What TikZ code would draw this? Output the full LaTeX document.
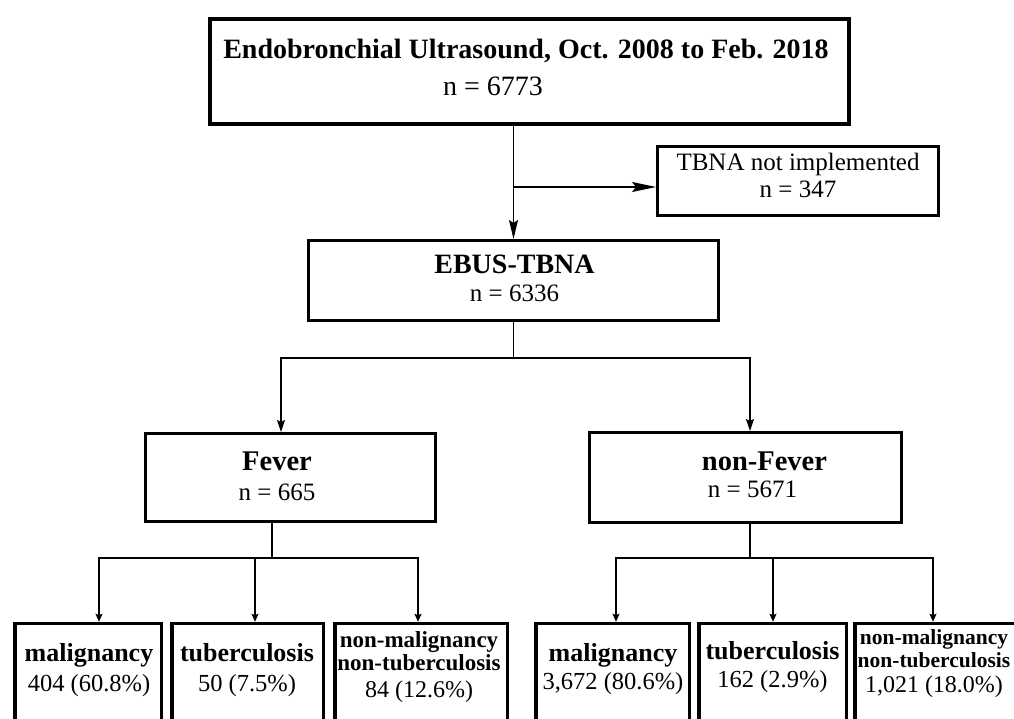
\documentclass[tikz,border=0pt]{standalone}
\usepackage{fontspec}
\setmainfont{Liberation Serif}
\usetikzlibrary{arrows.meta}

\begin{document}
\begin{tikzpicture}[x=1pt,y=-1pt,
		box/.style={draw, rectangle, line width=3pt, inner sep=0pt},
		leaf/.style={box, line width=3.5pt, minimum height=135},
		txt/.style={align=center, inner sep=0pt},
		link/.style={line width=1.3pt},
		small/.style={-{Stealth[length=8pt,width=7pt,inset=1.5pt]}}]
				\useasboundingbox (0,0) rectangle (1014,718);
				\clip (0,0) rectangle (1014,718);

				\node[box, line width=4pt, minimum width=639, minimum height=105] (top) at (529.5,71.5) {};
				\node[box, minimum width=281, minimum height=69]  (tbna)     at (798,181)     {};
				\node[box, minimum width=410, minimum height=80]  (ebus)     at (513.5,280.5) {};
				\node[box, minimum width=290, minimum height=88]  (fever)    at (290.5,477.5) {};
				\node[box, minimum width=312, minimum height=90]  (nonfever) at (745.5,477.5) {};
				\node[leaf, minimum width=146.5] (b1) at (88,691)    {};
				\node[leaf, minimum width=151.5] (b2) at (247.5,691) {};
				\node[leaf, minimum width=172.5] (b3) at (421,691)   {};
				\node[leaf, minimum width=153.5] (b4) at (612.5,691) {};
				\node[leaf, minimum width=147.5] (b5) at (772.5,691) {};
				\node[leaf, minimum width=167.5] (b6) at (938.5,691) {};

				\node[txt, font=\fontsize{28}{37}\selectfont] (toplab) at (526,67)
					{{\bfseries Endobronchial Ultrasound, Oct. 2008 to Feb. 2018}\\ \hspace*{-66pt}n = 6773};
				\node[txt, font=\fontsize{25}{27}\selectfont] (tbnalab) at (798,175.5)
					{TBNA not implemented\\ n = 347};
				\node[txt, font=\fontsize{25}{28}\selectfont] (ebuslab) at (514.5,278)
					{{\bfseries\fontsize{28}{28}\selectfont EBUS-TBNA}\\ n = 6336};
				\node[txt, font=\fontsize{25}{30}\selectfont] (feverlab) at (277,476)
					{{\bfseries\fontsize{28.5}{30}\selectfont Fever}\\ n = 665};
				\node[txt, font=\fontsize{25}{27}\selectfont] (nonfeverlab) at (764.5,474.5)
					{{\bfseries\fontsize{28.5}{27}\selectfont non-Fever}\\ \hspace*{-24pt}n = 5671};
				\node[txt, font=\fontsize{24.5}{30}\selectfont] (b1lab) at (89,670.5)
					{{\bfseries\fontsize{26}{30}\selectfont malignancy}\\ 404 (60.8\%)};
				\node[txt, font=\fontsize{24.5}{30}\selectfont] (b2lab) at (247,670.5)
					{{\bfseries\fontsize{26}{30}\selectfont tuberculosis}\\ 50 (7.5\%)};
				\node[txt, font=\fontsize{24}{23}\selectfont] (b3lab) at (419,667)
					{{\bfseries\fontsize{23}{23}\selectfont non-malignancy}\\ {\bfseries\fontsize{23}{23}\selectfont non-tuberculosis}\\[4pt] 84 (12.6\%)};
				\node[txt, font=\fontsize{24.5}{28}\selectfont] (b4lab) at (613,669.5)
					{{\bfseries\fontsize{26}{28}\selectfont malignancy}\\ 3,672 (80.6\%)};
				\node[txt, font=\fontsize{24.5}{28}\selectfont] (b5lab) at (772.5,667)
					{{\bfseries\fontsize{26}{28}\selectfont tuberculosis}\\ 162 (2.9\%)};
				\node[txt, font=\fontsize{24}{23}\selectfont] (b6lab) at (934,664)
					{{\bfseries\fontsize{21.5}{23}\selectfont non-malignancy}\\ {\bfseries\fontsize{21.5}{23}\selectfont non-tuberculosis}\\[2pt] 1,021 (18.0\%)};

				\coordinate (tbnain) at ([yshift=-6pt]tbna.west);
				\coordinate (split1) at ([yshift=-36pt]ebus.south);
				\coordinate (split2) at ([xshift=-18.5pt,yshift=-35pt]fever.south);
				\coordinate (split3) at ([xshift=4.5pt,yshift=-34pt]nonfever.south);

				\draw[link, -{Stealth[length=19pt,width=9pt,inset=3pt]}] (top.south -| ebus.north) -- (ebus.north);
				\draw[link, -{Stealth[length=24pt,width=10pt,inset=4pt]}] (ebus.north |- tbnain) -- (tbnain);

				\draw[link] (ebus.south) -- (split1);
				\draw[link, -{Stealth[length=12pt,width=8pt,inset=2pt]}] (split1) -| ([xshift=-9.5pt]fever.north);
				\draw[link, -{Stealth[length=12pt,width=8pt,inset=2pt]}] (split1) -| ([xshift=4.5pt]nonfever.north);

				\draw[link] (split2 |- fever.south) -- (split2);
				\foreach \leaf/\dx in {b1/11pt, b2/7.5pt, b3/-3pt}
					\draw[link, small] (split2) -| ([xshift=\dx]\leaf.north);

				\draw[link] (split3 |- nonfever.south) -- (split3);
				\foreach \leaf/\dx in {b4/3.5pt, b5/0.5pt, b6/-5.5pt}
					\draw[link, small] (split3) -| ([xshift=\dx]\leaf.north);
\end{tikzpicture}
\end{document}
